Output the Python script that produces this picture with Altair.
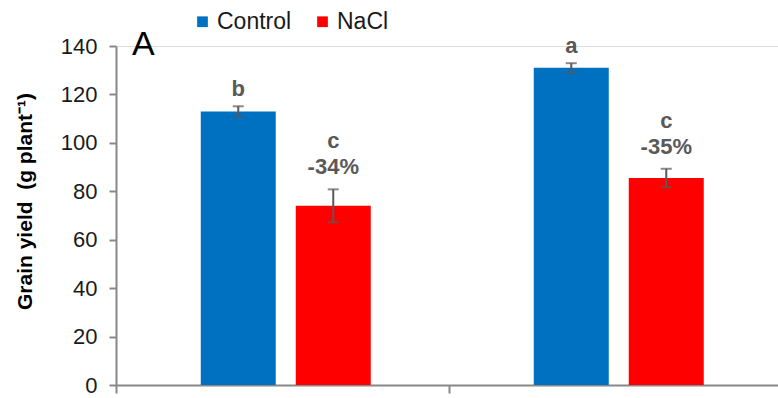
import altair as alt
import pandas as pd

# Grain yield per plant, two genotypes under control and salt (NaCl) treatment
genotypes = ["Genotype 1", "Genotype 1", "Genotype 2", "Genotype 2"]
treatments = ["Control", "NaCl", "Control", "NaCl"]
yield_mean = [113.0, 74.0, 131.0, 85.5]
yield_se = [2.1, 6.8, 1.9, 3.8]
letters = ["b", "c", "a", "c"]
reductions = ["", "-34%", "", "-35%"]

df = pd.DataFrame({
    "genotype": genotypes,
    "treatment": treatments,
    "mean": yield_mean,
    "se": yield_se,
    "letter": letters,
    "reduction": reductions,
})
df["lo"] = df["mean"] - df["se"]
df["hi"] = df["mean"] + df["se"]

FONT = "Liberation Sans"
AXIS_GREY = "#888888"
LABEL_GREY = "#595959"

x_enc = alt.X(
    "genotype:N",
    scale=alt.Scale(range=[0, 666], paddingInner=0, paddingOuter=0),
    axis=alt.Axis(
        labels=False, title=None, bandPosition=0, tickSize=8,
        tickColor=AXIS_GREY, domainColor=AXIS_GREY,
        tickWidth=2, domainWidth=2,
    ),
)
xo_enc = alt.XOffset(
    "treatment:N",
    scale=alt.Scale(domain=["Control", "NaCl"], paddingInner=0.2105,
                    paddingOuter=0.858, align=0.52),
)
y_scale = alt.Scale(domain=[0, 140], nice=False, zero=True)

base = alt.Chart(df).encode(x=x_enc, xOffset=xo_enc)

bars = base.mark_bar().encode(
    y=alt.Y(
        "mean:Q",
        scale=y_scale,
        axis=alt.Axis(
            values=list(range(0, 141, 20)), grid=False, tickSize=7,
            tickColor=AXIS_GREY, domainColor=AXIS_GREY, tickWidth=2,
            domainWidth=2, labelFont=FONT, labelFontSize=22,
            labelColor="#1a1a1a", labelPadding=12,
            title="Grain yield\u00a0\u00a0(g plant⁻¹)", titleFont=FONT,
            titleFontSize=21, titleFontWeight="bold", titleColor="#000000",
            titleAngle=-90, titleBaseline="alphabetic", titleAlign="center",
            titleX=-85, titleY=155,
        ),
    ),
    color=alt.Color(
        "treatment:N",
        scale=alt.Scale(domain=["Control", "NaCl"], range=["#0070C0", "#FF0000"]),
        legend=alt.Legend(
            title=None, orient="none", direction="horizontal",
            legendX=75, legendY=-36, symbolType="square", symbolSize=115,
            symbolStrokeWidth=0, symbolOpacity=1, labelFont=FONT,
            labelFontSize=23, labelColor="#1a1a1a", labelOffset=3,
            columnPadding=19, padding=0,
        ),
    ),
)

whisker = base.mark_rule(color=LABEL_GREY, strokeWidth=2).encode(
    y="lo:Q", y2="hi:Q"
)
cap_hi = base.mark_tick(color=LABEL_GREY, thickness=2, size=11).encode(y="hi:Q")
cap_lo = base.mark_tick(color=LABEL_GREY, thickness=2, size=11).encode(y="lo:Q")

letter_ctrl = base.mark_text(
    font=FONT, fontSize=22, fontWeight="bold", color=LABEL_GREY, dy=-17
).encode(y="hi:Q", text="letter:N").transform_filter(
    alt.datum.treatment == "Control"
)
letter_salt = base.mark_text(
    font=FONT, fontSize=22, fontWeight="bold", color=LABEL_GREY, dy=-48
).encode(y="hi:Q", text="letter:N").transform_filter(
    alt.datum.treatment == "NaCl"
)
pct_salt = base.mark_text(
    font=FONT, fontSize=22, fontWeight="bold", color=LABEL_GREY, dy=-22
).encode(y="hi:Q", text="reduction:N").transform_filter(
    alt.datum.treatment == "NaCl"
)

panel = alt.Chart(pd.DataFrame({"panel": ["A"]})).mark_text(
    font=FONT, fontSize=34, align="left", baseline="alphabetic", color="#000000"
).encode(x=alt.value(16), y=alt.value(9), text="panel:N")

chart = (
    alt.layer(bars, whisker, cap_hi, cap_lo, letter_ctrl, letter_salt, pct_salt, panel)
    .properties(
        width=662,
        height=339,
        autosize=alt.AutoSizeParams(type="none"),
        padding={"left": 116, "top": 46, "right": 0, "bottom": 13},
    )
    .configure_view(stroke=None)
    .configure(background="white")
)

chart.save("out.html", embed_options={"renderer": "svg", "actions": False})
